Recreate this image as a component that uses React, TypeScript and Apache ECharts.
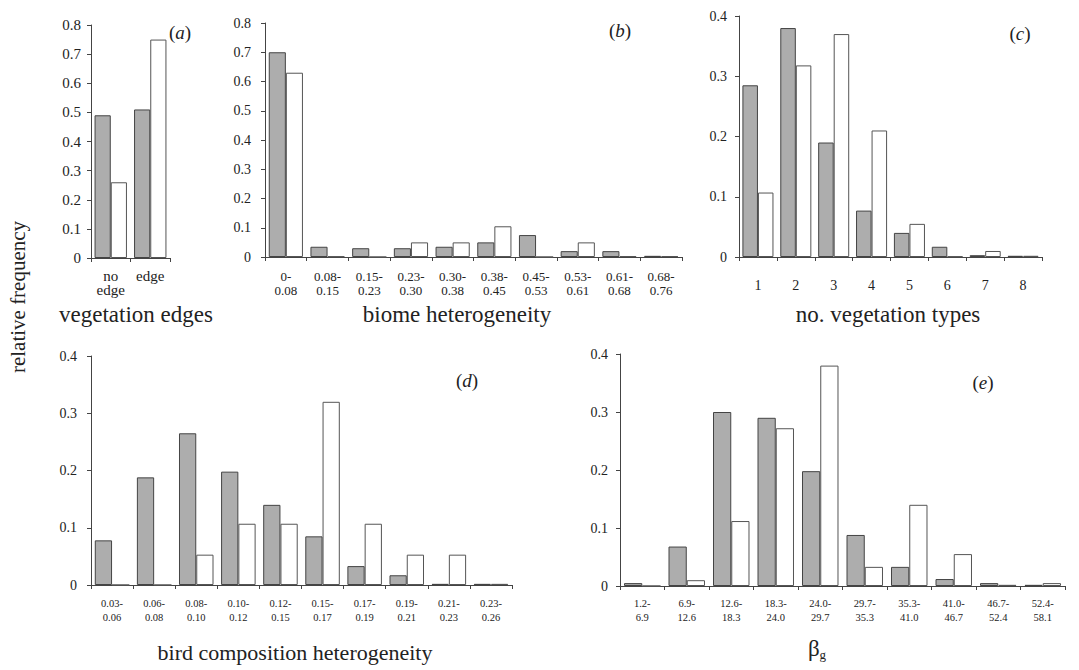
import React, { useEffect, useRef } from "react";
import * as echarts from "echarts";

// Panel (a) vegetation edges
const catsA = ["no\nedge", "edge"];
const greyA = [0.49, 0.51];
const whiteA = [0.26, 0.75];

// Panel (b) biome heterogeneity
const catsB = ["0-\n0.08", "0.08-\n0.15", "0.15-\n0.23", "0.23-\n0.30", "0.30-\n0.38", "0.38-\n0.45", "0.45-\n0.53", "0.53-\n0.61", "0.61-\n0.68", "0.68-\n0.76"];
const greyB = [0.70, 0.035, 0.03, 0.03, 0.035, 0.05, 0.075, 0.02, 0.02, 0.004];
const whiteB = [0.63, 0.002, 0.0, 0.05, 0.05, 0.105, 0.0, 0.05, 0.003, 0.003];

// Panel (c) no. vegetation types
const catsC = ["1", "2", "3", "4", "5", "6", "7", "8"];
const greyC = [0.285, 0.38, 0.19, 0.077, 0.04, 0.017, 0.003, 0.002];
const whiteC = [0.107, 0.318, 0.37, 0.21, 0.055, 0.001, 0.01, 0.002];

// Panel (d) bird composition heterogeneity
const catsD = ["0.03-\n0.06", "0.06-\n0.08", "0.08-\n0.10", "0.10-\n0.12", "0.12-\n0.15", "0.15-\n0.17", "0.17-\n0.19", "0.19-\n0.21", "0.21-\n0.23", "0.23-\n0.26"];
const greyD = [0.078, 0.188, 0.265, 0.198, 0.14, 0.085, 0.033, 0.017, 0.002, 0.002];
const whiteD = [0.0, 0.0, 0.053, 0.107, 0.107, 0.32, 0.107, 0.053, 0.053, 0.002];

// Panel (e) beta_g
const catsE = ["1.2-\n6.9", "6.9-\n12.6", "12.6-\n18.3", "18.3-\n24.0", "24.0-\n29.7", "29.7-\n35.3", "35.3-\n41.0", "41.0-\n46.7", "46.7-\n52.4", "52.4-\n58.1"];
const greyE = [0.005, 0.068, 0.30, 0.29, 0.198, 0.088, 0.033, 0.012, 0.005, 0.002];
const whiteE = [0.0, 0.01, 0.112, 0.272, 0.38, 0.033, 0.14, 0.055, 0.002, 0.005];

const yMaxes = [0.8, 0.8, 0.4, 0.4, 0.4];

const FONT = "Liberation Serif";

export default function App() {
  const ref = useRef<HTMLDivElement>(null);
  useEffect(() => {
    if (!ref.current) return;
    const chart = echarts.init(ref.current, undefined, { renderer: "svg" });
    const panels = [
      { cats: catsA, grey: greyA, white: whiteA, grid: { left: 91, top: 25, width: 79, height: 233 }, xFont: 15, xLine: 14, yFont: 15, yMargin: 10, xMargin: 11 },
      { cats: catsB, grey: greyB, white: whiteB, grid: { left: 265, top: 23, width: 417, height: 234 }, xFont: 13, xLine: 14, yFont: 14, yMargin: 14, xMargin: 12 },
      { cats: catsC, grey: greyC, white: whiteC, grid: { left: 739, top: 16, width: 303, height: 241 }, xFont: 14, xLine: 14, yFont: 14, yMargin: 12, xMargin: 21 },
      { cats: catsD, grey: greyD, white: whiteD, grid: { left: 91, top: 356, width: 421, height: 229 }, xFont: 10.5, xLine: 14, yFont: 14, yMargin: 14, xMargin: 11 },
      { cats: catsE, grey: greyE, white: whiteE, grid: { left: 620, top: 354, width: 445, height: 232 }, xFont: 10.5, xLine: 14, yFont: 14, yMargin: 12, xMargin: 10 },
    ];
    const axisLine = { show: true, lineStyle: { color: "#444", width: 1 } };
    const option: any = {
      animation: false,
      backgroundColor: "#fff",
      grid: panels.map((p) => ({ ...p.grid, containLabel: false })),
      xAxis: panels.map((p, i) => ({
        type: "category",
        gridIndex: i,
        data: p.cats,
        boundaryGap: true,
        axisLine,
        axisTick: { show: true, length: 4, lineStyle: { color: "#444" } },
        axisLabel: { fontFamily: FONT, fontSize: p.xFont, color: "#222", margin: p.xMargin, lineHeight: p.xLine, interval: 0 },
      })),
      yAxis: panels.map((p, i) => ({
        type: "value",
        gridIndex: i,
        min: 0,
        max: yMaxes[i],
        interval: 0.1,
        splitLine: { show: false },
        axisLine,
        axisTick: { show: true, length: 4, lineStyle: { color: "#444" } },
        axisLabel: {
          fontFamily: FONT,
          fontSize: p.yFont,
          color: "#222",
          margin: p.yMargin,
          formatter: (v: number) => (v === 0 ? "0" : v.toFixed(1)),
        },
      })),
      series: panels.flatMap((p, i) => [
        {
          type: "bar",
          xAxisIndex: i,
          yAxisIndex: i,
          data: p.grey,
          barGap: "0%",
          barCategoryGap: "18%",
          itemStyle: { color: "#adadad", borderColor: "#444", borderWidth: 1 },
        },
        {
          type: "bar",
          xAxisIndex: i,
          yAxisIndex: i,
          data: p.white,
          barGap: "0%",
          barCategoryGap: "18%",
          itemStyle: { color: "#ffffff", borderColor: "#555", borderWidth: 1 },
        },
      ]),
      graphic: [
        { type: "text", x: 18, y: 297, rotation: Math.PI / 2, style: { text: "relative frequency", font: `21px '${FONT}'`, fill: "#222", align: "center", verticalAlign: "middle" } },
        { type: "text", x: 136, y: 314, style: { text: "vegetation edges", font: `23px '${FONT}'`, fill: "#222", align: "center", verticalAlign: "middle" } },
        { type: "text", x: 457, y: 314, style: { text: "biome heterogeneity", font: `23px '${FONT}'`, fill: "#222", align: "center", verticalAlign: "middle" } },
        { type: "text", x: 888, y: 314, style: { text: "no. vegetation types", font: `23px '${FONT}'`, fill: "#222", align: "center", verticalAlign: "middle" } },
        { type: "text", x: 295, y: 652, style: { text: "bird composition heterogeneity", font: `22px '${FONT}'`, fill: "#222", align: "center", verticalAlign: "middle" } },
        {
          type: "text", x: 817, y: 648,
          style: {
            text: "{b|β}{s|g}", fill: "#222", align: "center", verticalAlign: "middle",
            rich: { b: { fontFamily: FONT, fontSize: 23, fill: "#222" }, s: { fontFamily: FONT, fontSize: 13, fill: "#222", padding: [12, 0, 0, 0] } },
          },
        },
        ...([
          ["a", 180, 32],
          ["b", 620, 30],
          ["c", 1020, 33],
          ["d", 467, 380],
          ["e", 983, 382],
        ] as [string, number, number][]).map(([l, x, y]) => ({
          type: "text", x, y,
          style: {
            text: `{n|(}{i|${l}}{n|)}`, align: "center", verticalAlign: "middle",
            rich: {
              n: { fontFamily: FONT, fontSize: 19, fill: "#222" },
              i: { fontFamily: FONT, fontSize: 19, fontStyle: "italic", fill: "#222" },
            },
          },
        })),
      ],
    };
    chart.setOption(option);
    return () => chart.dispose();
  }, []);
  return <div ref={ref} style={{ position: "fixed", left: 0, top: 0, width: 1079, height: 670, background: "#fff" }} />;
}
